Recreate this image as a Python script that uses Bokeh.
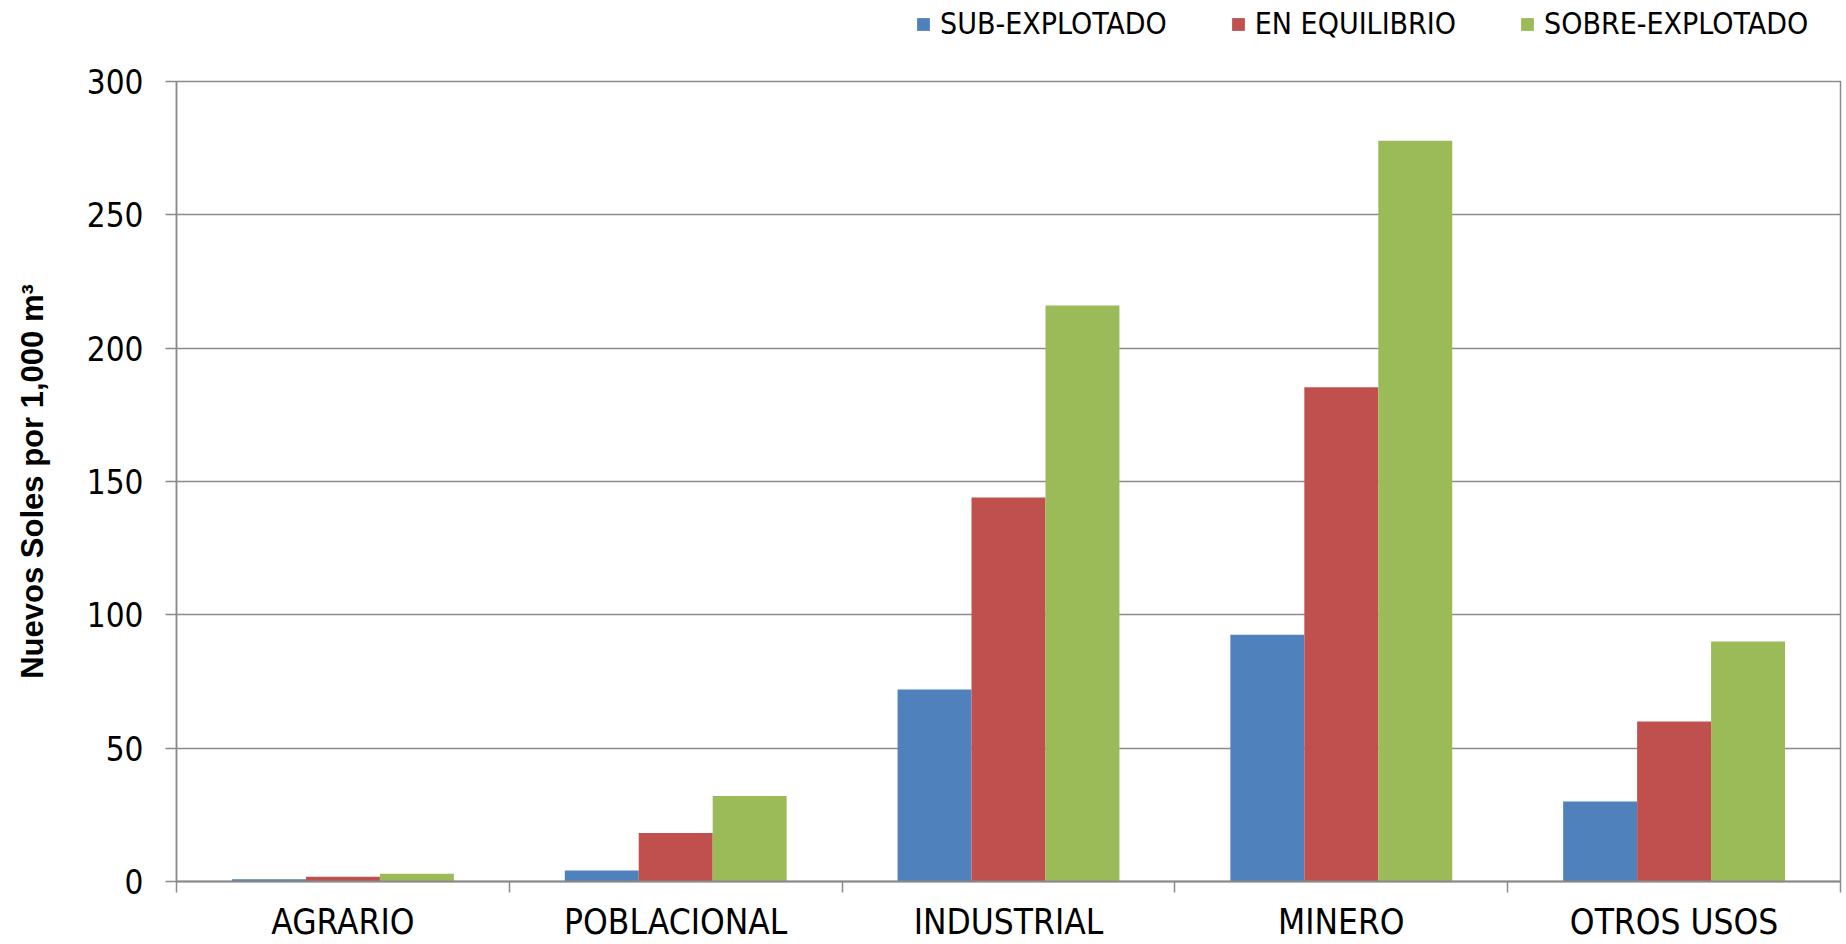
from bokeh.plotting import figure
from bokeh.layouts import column
from bokeh.models import (Range1d, LinearAxis, FixedTicker, Legend, LegendItem,
                          ColumnDataSource)
from bokeh.transform import dodge
from bokeh.embed import file_html
from bokeh.resources import INLINE

# Tarifa por uso del agua segun condicion del acuifero
usos = ["AGRARIO", "POBLACIONAL", "INDUSTRIAL", "MINERO", "OTROS USOS"]
sub_explotado = [0.8, 4.1, 72.0, 92.5, 30.0]
en_equilibrio = [1.8, 18.2, 144.0, 185.3, 60.0]
sobre_explotado = [2.9, 32.1, 216.0, 277.8, 90.0]
series_names = ["SUB-EXPLOTADO", "EN EQUILIBRIO", "SOBRE-EXPLOTADO"]
y_ticks = [0, 50, 100, 150, 200, 250, 300]

colors = ["#4F81BD", "#C0504D", "#9BBB59"]
NARROW = "'Liberation Sans Narrow', 'Arial Narrow', 'DejaVu Sans Condensed', sans-serif"
GRID = "#8a8a8a"
W = 1846
LEG_H = 61

# one slot per category: centres at i + 0.5, boundaries at integers
centres = [i + 0.5 for i in range(len(usos))]
bounds = list(range(len(usos) + 1))
source = ColumnDataSource(dict(xc=centres, uso=usos, sub=sub_explotado,
                               equ=en_equilibrio, sobre=sobre_explotado))

p = figure(width=W, height=944 - LEG_H, x_range=Range1d(0, len(usos)),
           y_range=Range1d(0, 300), x_axis_location=None, y_axis_location=None,
           output_backend="svg", toolbar_location=None,
           min_border_left=176, min_border_right=6, min_border_top=20,
           min_border_bottom=60)
p.background_fill_color = "white"
p.border_fill_color = "white"
p.outline_line_color = GRID
p.outline_line_width = 1.5

bw = 1 / 4.5  # 150% gap between groups
fields = ["sub", "equ", "sobre"]
for i, (f, c) in enumerate(zip(fields, colors)):
    p.vbar(x=dodge("xc", (i - 1) * bw), top=f, width=bw,
           source=source, fill_color=c, line_color=None)

# Y axis
yax = LinearAxis(ticker=FixedTicker(ticks=y_ticks))
yax.axis_label = "Nuevos Soles por 1,000 m\u00b3"
yax.axis_label_text_font = "Liberation Sans"
yax.axis_label_text_font_style = "bold"
yax.axis_label_text_font_size = "31px"
yax.axis_label_text_color = "black"
yax.axis_label_standoff = 34
yax.major_label_text_font = NARROW
yax.major_label_text_font_size = "33px"
yax.major_label_text_color = "black"
yax.major_label_standoff = 22
yax.major_tick_out = 11
yax.major_tick_in = 0
yax.minor_tick_out = 0
yax.minor_tick_in = 0
yax.axis_line_color = GRID
yax.axis_line_width = 1.5
yax.major_tick_line_color = GRID
yax.major_tick_line_width = 1.5
p.add_layout(yax, "left")

# X axis: labels at slot centres, tick marks at slot boundaries
xax = LinearAxis(ticker=FixedTicker(ticks=centres, minor_ticks=bounds))
xax.major_label_overrides = {c: u for c, u in zip(centres, usos)}
xax.axis_line_color = GRID
xax.axis_line_width = 2
xax.major_tick_out = 0
xax.major_tick_in = 0
xax.major_tick_line_color = None
xax.minor_tick_out = 11
xax.minor_tick_in = 0
xax.minor_tick_line_color = GRID
xax.minor_tick_line_width = 1.5
xax.major_label_text_font = NARROW
xax.major_label_text_font_size = "35px"
xax.major_label_text_color = "black"
xax.major_label_standoff = 9
p.add_layout(xax, "below")

p.xgrid.visible = False
p.ygrid.ticker = FixedTicker(ticks=y_ticks)
p.ygrid.grid_line_color = GRID
p.ygrid.grid_line_width = 1.5

# Legend strip above the chart; its bars sit below the visible y range
lg = figure(width=W, height=LEG_H, output_backend="svg", toolbar_location=None,
            x_axis_location=None, y_axis_location=None, min_border=0,
            x_range=Range1d(0, len(usos)), y_range=Range1d(1000, 1001))
lg.outline_line_color = None
lg.xgrid.visible = False
lg.ygrid.visible = False
swatches = [lg.vbar(x=dodge("xc", (i - 1) * bw), top=f, width=bw, source=source,
                    fill_color=c, line_color=None)
            for i, (f, c) in enumerate(zip(fields, colors))]
legend = Legend(items=[LegendItem(label=n, renderers=[r])
                       for n, r in zip(series_names, swatches)],
                orientation="horizontal", location=(739, 20))
legend.label_text_font = NARROW
legend.label_text_font_size = "30px"
legend.label_text_color = "black"
legend.glyph_width = 16
legend.glyph_height = 16
legend.label_standoff = 9
legend.spacing = 63
legend.padding = 0
legend.margin = 0
legend.border_line_color = None
legend.background_fill_alpha = 0
lg.add_layout(legend, "center")

open("out.html", "w").write(file_html(column(lg, p, spacing=0), INLINE))
